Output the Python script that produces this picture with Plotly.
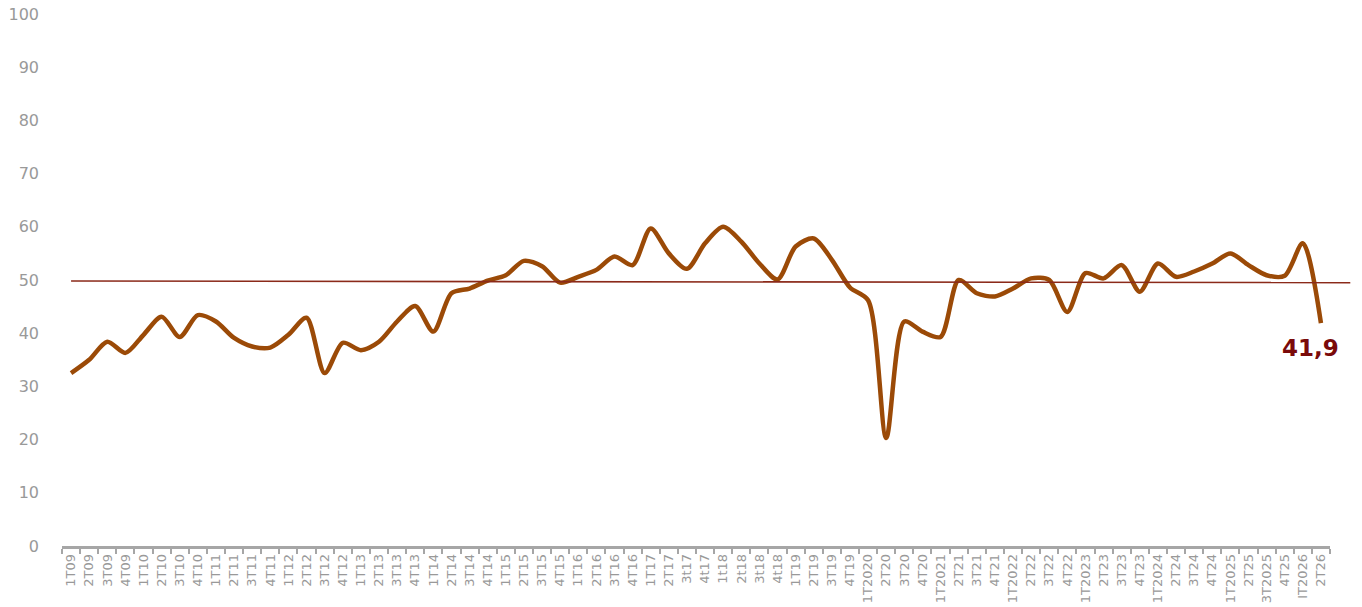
import plotly.graph_objects as go

categories = [
    "1T09", "2T09", "3T09", "4T09",
    "1T10", "2T10", "3T10", "4T10",
    "1T11", "2T11", "3T11", "4T11",
    "1T12", "2T12", "3T12", "4T12",
    "1T13", "2T13", "3T13", "4T13",
    "1T14", "2T14", "3T14", "4T14",
    "1T15", "2T15", "3T15", "4T15",
    "1T16", "2T16", "3T16", "4T16",
    "1T17", "2T17", "3t17", "4t17",
    "1t18", "2t18", "3t18", "4t18",
    "1T19", "2T19", "3T19", "4T19",
    "1T2020", "2T20", "3T20", "4T20",
    "1T2021", "2T21", "3T21", "4T21",
    "1T2022", "2T22", "3T22", "4T22",
    "1T2023", "2T23", "3T23", "4T23",
    "1T2024", "2T24", "3T24", "4T24",
    "1T2025", "2T25", "3T2025", "4T25",
    "IT2026", "2T26",
]

values = [
    32.5, 35.0, 38.4, 36.3,
    39.7, 43.1, 39.3, 43.4,
    42.2, 39.1, 37.5, 37.3,
    39.7, 42.9, 32.5, 38.2,
    36.8, 38.4, 42.2, 45.1,
    40.3, 47.5, 48.4, 49.9,
    50.9, 53.6, 52.6, 49.5,
    50.6, 51.9, 54.4, 52.8,
    59.7, 55.0, 52.1, 56.9,
    60.0, 57.2, 53.1, 50.1,
    56.3, 57.8, 53.8, 48.6,
    46.2, 20.3, 42.2, 40.3,
    39.3, 50.0, 47.5, 46.9,
    48.4, 50.3, 50.0, 44.0,
    51.3, 50.3, 52.8, 47.8,
    53.1, 50.6, 51.6, 53.1,
    55.0, 52.8, 50.9, 50.8,
    56.9, 41.9,
]

threshold_start = 49.8
threshold_end = 49.5
last_label = "41,9"

fig = go.Figure()

fig.add_trace(go.Scatter(
    x=categories, y=values, mode="lines",
    line=dict(color="#9B4A07", width=4.5, shape="spline", smoothing=0.8),
    hoverinfo="x+y", showlegend=False,
))

# threshold line (paper-referenced in x so it extends beyond the last category)
n = len(categories)
x_first = 0.5 / n
fig.add_shape(
    type="line", xref="paper", yref="y",
    x0=x_first, x1=1.016, y0=threshold_start, y1=threshold_end,
    line=dict(color="#8B2A1A", width=1.6), layer="above",
)

fig.add_annotation(
    x=categories[-1], y=values[-1], text=f"<b>{last_label}</b>",
    showarrow=False, xanchor="center", yanchor="top",
    xshift=-10, yshift=-10,
    font=dict(family="DejaVu Sans, Verdana, sans-serif", size=23, color="#7A0A0A"),
)

fig.update_layout(
    width=1362, height=607,
    margin=dict(l=62, r=32, t=14, b=61, autoexpand=False),
    paper_bgcolor="white", plot_bgcolor="white",
    font=dict(family="DejaVu Sans, Verdana, sans-serif", color="#999999"),
    xaxis=dict(
        type="category",
        tickangle=-90,
        tickfont=dict(size=13, color="#999999"),
        showline=True, linecolor="#A6A6A6", linewidth=2.5,
        ticks="outside", tickson="boundaries", ticklen=5, tickwidth=2, tickcolor="#A6A6A6",
        showgrid=False, zeroline=False, automargin=False,
        range=[-0.5, n - 0.5],
    ),
    yaxis=dict(
        range=[0, 100], dtick=10, tick0=0,
        tickfont=dict(size=16, color="#999999"),
        showgrid=False, zeroline=False, showline=False, automargin=False,
        ticks="", ticklabelstandoff=22, ticklabeloverflow="allow",
    ),
)

fig.write_html(
    "out.html",
    config={"displayModeBar": False},
    post_script="document.body.style.margin='0';document.body.style.overflow='hidden';",
)
